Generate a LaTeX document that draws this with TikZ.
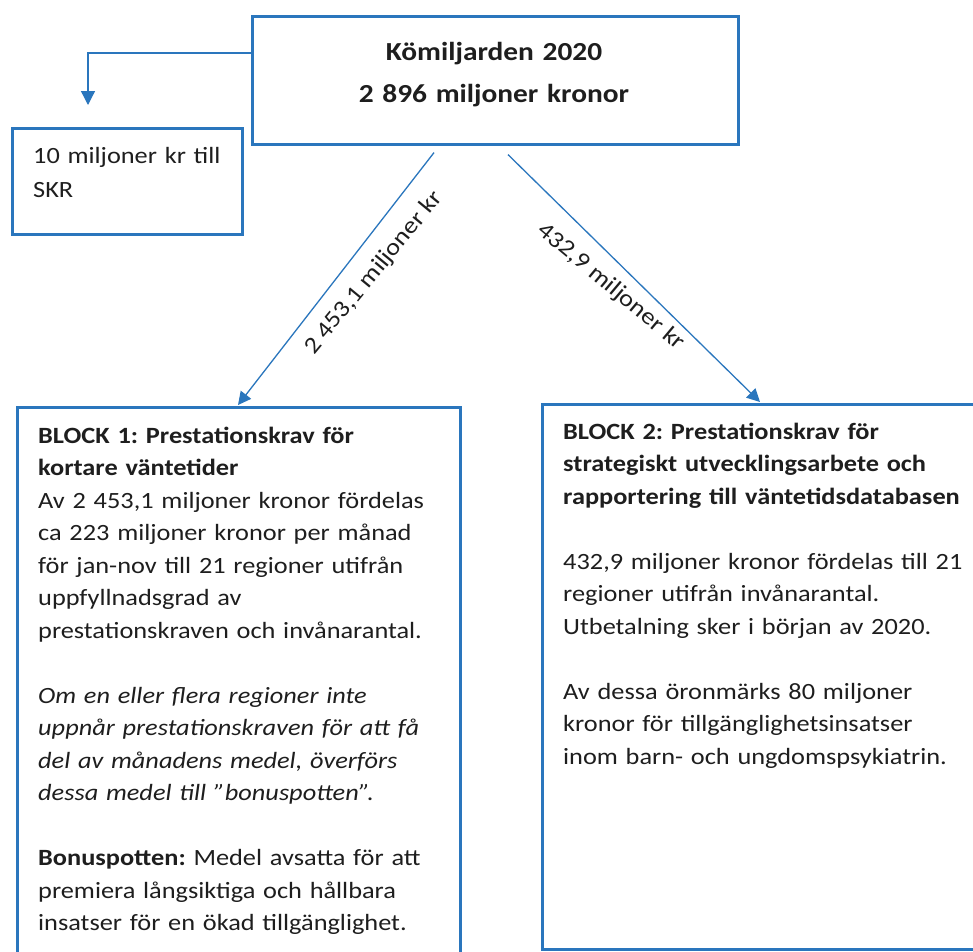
\documentclass[tikz,border=0pt]{standalone}
\usepackage{fontspec}
\setmainfont{Carlito}[FakeStretch=1.13]
\usetikzlibrary{arrows.meta,calc}
\definecolor{boxblue}{HTML}{2A76BD}
\definecolor{txt}{HTML}{1E1E1E}
\frenchspacing
\begin{document}
\begin{tikzpicture}[x=1pt,y=-1pt,
  box/.style={draw=boxblue,line width=2.6pt,inner sep=0pt,anchor=north west},
  body/.style={inner sep=0pt,anchor=base west,text=txt,text width=430pt,align=left,
    font=\fontsize{23.3}{32.5}\selectfont},
  arr/.style={draw=boxblue,line width=1.3pt,-{Triangle[length=13pt,width=13pt]}},
  lab/.style={inner sep=0pt,text=txt,font=\fontsize{23.5}{28}\selectfont}]
\useasboundingbox (0,0) rectangle (973,951);
\clip (0,0) rectangle (973,951);
\fill[white] (0,0) rectangle (973,951);
% boxes
\node[box,minimum width=486pt,minimum height=128pt] (kom) at (251,15) {};
\node[box,minimum width=230pt,minimum height=106pt] (skr) at (11,127) {};
\node[box,minimum width=443pt,minimum height=560pt] (b1) at (16,406) {};
\node[box,minimum width=450pt,minimum height=545pt] (b2) at (541,403) {};
% texts
\node[inner sep=0pt,anchor=base,text=txt,text width=480pt,align=center,
  font=\fontsize{26}{42}\selectfont\bfseries] (komtext) at (494,60)
  {Kömiljarden 2020\\2 896 miljoner kronor};
\node[body,text width=220pt,font=\fontsize{23.3}{34}\selectfont] (skrtext) at (33,163)
  {10 miljoner kr till\\SKR};
\node[body] (b1text) at (38,443)
  {\textbf{BLOCK 1: Prestationskrav för}\\
   \textbf{kortare väntetider}\\
   Av 2 453,1 miljoner kronor fördelas\\
   ca 223 miljoner kronor per månad\\
   för jan-nov till 21 regioner utifrån\\
   uppfyllnadsgrad av\\
   prestationskraven och invånarantal.\\[32.5pt]
   \textit{Om en eller flera regioner inte}\\
   \textit{uppnår prestationskraven för att få}\\
   \textit{del av månadens medel, överförs}\\
   \textit{dessa medel till ”bonuspotten”.}\\[32.5pt]
   \textbf{Bonuspotten:} Medel avsatta för att\\
   premiera långsiktiga och hållbara\\
   insatser för en ökad tillgänglighet.};
\node[body] (b2text) at (563,439)
  {\textbf{BLOCK 2: Prestationskrav för}\\
   \textbf{strategiskt utvecklingsarbete och}\\
   \textbf{rapportering till väntetidsdatabasen}\\[32.5pt]
   432,9 miljoner kronor fördelas till 21\\
   regioner utifrån invånarantal.\\
   Utbetalning sker i början av 2020.\\[32.5pt]
   Av dessa öronmärks 80 miljoner\\
   kronor för tillgänglighetsinsatser\\
   inom barn- och ungdomspsykiatrin.};
% connectors
\coordinate (skrtip) at ($(skr.north west)+(77,-22)$);
\draw[arr,-{Triangle[length=14pt,width=14pt]}] ($(kom.north west)+(0,38)$) -| (skrtip);
\draw[arr] ($(kom.south west)+(183,7)$) -- ($(b1.north west)+(222,-1)$);
\draw[arr] ($(kom.south west)+(257,9)$) -- ($(b2.north west)+(219,-1)$);
% labels
\node[lab,rotate=50.5] (lab1) at (374,273) {2 453,1 miljoner kr};
\node[lab,rotate=-40] (lab2) at (611,287) {432,9 miljoner kr};
\end{tikzpicture}
\end{document}
